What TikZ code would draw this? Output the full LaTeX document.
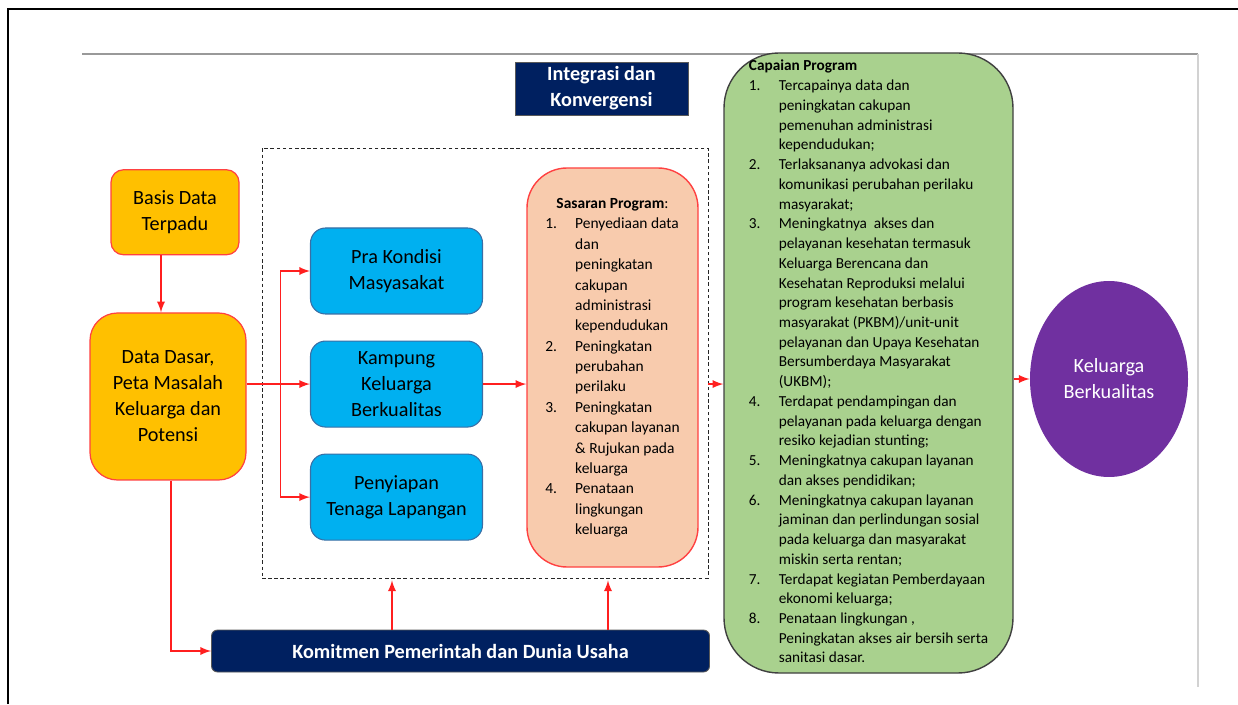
\documentclass[tikz,border=0pt]{standalone}
\usepackage{fontspec}
\setmainfont{Carlito}
\usepackage{array}
\usetikzlibrary{
  arrows,
  positioning,
  calc,
  shapes.geometric}
\definecolor{navy}{HTML}{002060}
\definecolor{kuning}{HTML}{FFC000}
\definecolor{biru}{HTML}{00B0F0}
\definecolor{birutepi}{HTML}{3A6EA5}
\definecolor{peach}{HTML}{F8CBAD}
\definecolor{hijau}{HTML}{A9D18E}
\definecolor{ungu}{HTML}{7030A0}
\definecolor{merah}{HTML}{FF1F1F}
\tikzset{databox/.style={draw=merah!85,line width=0.7pt,fill=kuning,align=center,inner sep=0pt,rounded corners=#1},
         tahapbox/.style={draw=birutepi,line width=0.6pt,fill=biru,align=center,inner sep=0pt,rounded corners=0.3cm,
                          minimum width=3.44cm,minimum height=1.72cm},
         gelapbox/.style={draw=gray!70!black,line width=0.5pt,fill=navy,text=white,align=center,inner sep=0pt,
                          font=\fontsize{11.5}{14.8}\selectfont\bfseries},
         panah/.style={->,>=latex,merah,line width=1.1pt},
         daftar/.style={inner sep=0pt,line width=0.8pt}
        }

\begin{document}
\begin{tikzpicture}[font=\fontsize{11.5}{14.8}\selectfont]
    \useasboundingbox (0,0) rectangle (24.76,14.08);
    \draw[line width=1.3pt] (0.155,0) |- (24.76,13.90);
    \draw[gray!80,line width=0.6pt] (1.64,13.00) -- (23.96,13.00);
    \draw[gray!35,line width=0.6pt] (23.96,13.00) -- (23.96,0.34);

    \node[gelapbox,minimum width=3.46cm,minimum height=1.06cm] at (12.03,12.31) (judul){Integrasi dan\\Konvergensi};
    \node[draw=black!85,dash pattern=on 2pt off 1.5pt,line width=0.45pt,inner sep=0pt,
          minimum width=8.92cm,minimum height=8.60cm] at (9.70,6.82) (integrasi){};

    \node[databox=0.55cm,minimum width=3.12cm,minimum height=3.34cm] at (3.36,6.15) (dasar){Data Dasar,\\Peta Masalah\\Keluarga dan\\Potensi};
    \node[databox=0.25cm,minimum width=2.56cm,minimum height=1.70cm,above = 1.14cm of dasar,xshift=0.14cm] (basis){Basis Data\\Terpadu};

    \node[tahapbox] at (7.93,8.66) (pra){Pra Kondisi\\Masyasakat};
    \node[tahapbox,below = 0.52cm of pra] (kampung){Kampung\\Keluarga\\Berkualitas};
    \node[tahapbox,below = 0.52cm of kampung] (penyiapan){Penyiapan\\Tenaga Lapangan};

    \node[daftar,draw=merah!85,fill=peach,rounded corners=0.8cm,minimum width=3.42cm,minimum height=7.98cm] at (12.25,6.73) (sasaran){%
      \fontsize{8.8}{11.6}\selectfont
      \begin{tabular}{@{}p{17pt}@{}l@{}}
        \multicolumn{2}{c}{\textbf{Sasaran Program}:}\\
        1. & Penyediaan data\\
           & dan\\
           & peningkatan\\
           & cakupan\\
           & administrasi\\
           & kependudukan\\
        2. & Peningkatan\\
           & perubahan\\
           & perilaku\\
        3. & Peningkatan\\
           & cakupan layanan\\
           & \& Rujukan pada\\
           & keluarga\\
        4. & Penataan\\
           & lingkungan\\
           & keluarga
      \end{tabular}};

    \node[daftar,draw=black!75,fill=hijau,rounded corners=1.1cm,minimum width=5.78cm,minimum height=12.40cm] at (17.37,6.82) (capaian){%
      \fontsize{8.7}{11.23}\selectfont
      \begin{tabular}{@{}p{17pt}@{}l@{}}
        \multicolumn{2}{@{}l}{\textbf{Capaian Program}}\\
        1. & Tercapainya data dan\\
           & peningkatan cakupan\\
           & pemenuhan administrasi\\
           & kependudukan;\\
        2. & Terlaksananya advokasi dan\\
           & komunikasi perubahan perilaku\\
           & masyarakat;\\
        3. & Meningkatnya\ \ akses dan\\
           & pelayanan kesehatan termasuk\\
           & Keluarga Berencana dan\\
           & Kesehatan Reproduksi melalui\\
           & program kesehatan berbasis\\
           & masyarakat (PKBM)/unit-unit\\
           & pelayanan dan Upaya Kesehatan\\
           & Bersumberdaya Masyarakat\\
           & (UKBM);\\
        4. & Terdapat pendampingan dan\\
           & pelayanan pada keluarga dengan\\
           & resiko kejadian stunting;\\
        5. & Meningkatnya cakupan layanan\\
           & dan akses pendidikan;\\
        6. & Meningkatnya cakupan layanan\\
           & jaminan dan perlindungan sosial\\
           & pada keluarga dan masyarakat\\
           & miskin serta rentan;\\
        7. & Terdapat kegiatan Pemberdayaan\\
           & ekonomi keluarga;\\
        8. & Penataan lingkungan ,\\
           & Peningkatan akses air bersih serta\\
           & sanitasi dasar.
      \end{tabular}};

    \node[ellipse,fill=ungu,text=white,align=center,inner sep=0pt,minimum width=3.16cm,minimum height=3.92cm] at (22.18,6.50) (keluarga){Keluarga\\Berkualitas};

    \node[gelapbox,rounded corners=0.12cm,minimum width=9.96cm,minimum height=0.84cm] at (9.21,1.06) (komitmen){Komitmen Pemerintah dan Dunia Usaha};

    \coordinate[left = 0.59cm of kampung.west] (cabang);

    \draw[panah] ([xshift=-0.28cm]basis.south) -- ([xshift=-0.28cm]basis.south |- dasar.north);
    \draw[panah] (dasar.east |- kampung) -- (kampung);
    \draw[panah] (cabang) |- (pra);
    \draw[panah] (cabang) |- (penyiapan);
    \draw[panah] (kampung.east) -- (kampung.east -| sasaran.west);
    \draw[panah] (integrasi.east |- kampung) -- (capaian.west |- kampung);
    \draw[panah] (capaian.east |- keluarga) -- (keluarga.west);
    \draw[panah] ([xshift=0.06cm]dasar.south) |- (komitmen.west);
    \draw[panah] ([xshift=-1.37cm]komitmen.north) -- ([xshift=-1.37cm,yshift=-0.04cm]komitmen.north |- integrasi.south);
    \draw[panah] ([xshift=2.95cm]komitmen.north) -- ([xshift=2.95cm,yshift=-0.04cm]komitmen.north |- integrasi.south);
\end{tikzpicture}
\end{document}
